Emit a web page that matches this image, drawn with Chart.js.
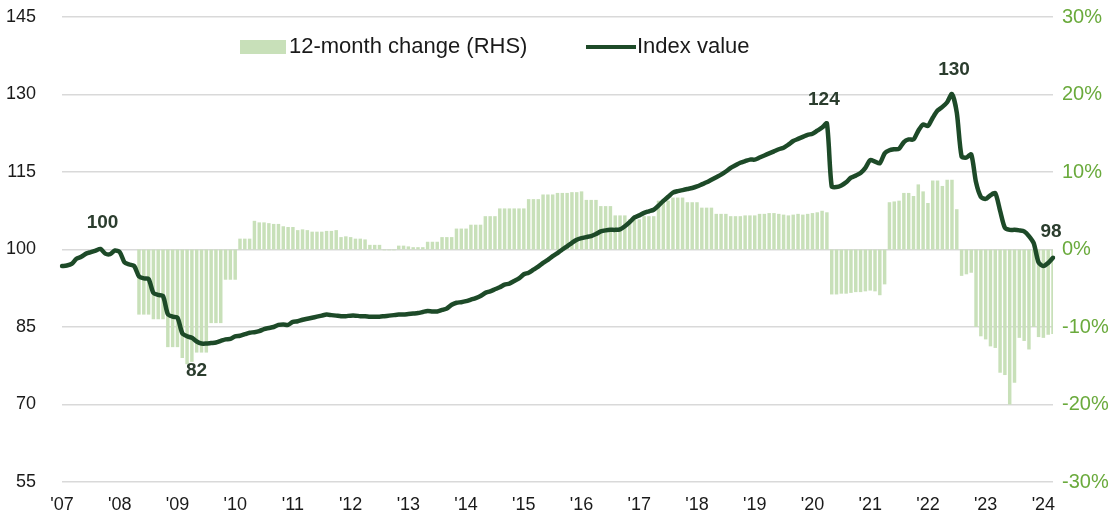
<!DOCTYPE html>
<html>
<head>
<meta charset="utf-8">
<script src="https://cdn.jsdelivr.net/npm/chart.js@4.4.1/dist/chart.umd.min.js"></script>
<style>
  html, body { margin: 0; padding: 0; background: #fff; }
  #wrap { width: 1119px; height: 517px; }
</style>
</head>
<body>
<div id="wrap"><canvas id="indexChart" width="1119" height="517"></canvas></div>
<script>
// Monthly data, Jan 2007 -> Mar 2024
const startYear = 2007;
const monthCount = 207;

// Index value (LHS)
const indexValue = [
  96.8, 96.9, 97.2, 98.2, 98.6, 99.2, 99.5, 99.8, 100.1, 99.2, 99.1, 99.8,   // 2007
  99.5, 97.5, 97.1, 96.8, 94.8, 94.4, 94.3, 91.6, 91.2, 91.0, 87.5, 87.0,    // 2008
  86.8, 83.8, 83.2, 82.9, 82.2, 81.8, 81.8, 81.9, 82.0, 82.3, 82.6, 82.7,    // 2009
  83.2, 83.3, 83.6, 83.9, 84.0, 84.2, 84.6, 84.8, 85.0, 85.4, 85.5, 85.4,    // 2010
  86.0, 86.1, 86.4, 86.6, 86.8, 87.0, 87.2, 87.4, 87.3, 87.2, 87.1, 87.1,    // 2011
  87.2, 87.2, 87.1, 87.1, 87.0, 87.0, 87.0, 87.1, 87.2, 87.3, 87.4, 87.4,    // 2012
  87.5, 87.6, 87.7, 87.9, 88.1, 88.0, 88.0, 88.3, 88.6, 89.3, 89.7, 89.8,    // 2013
  90.0, 90.3, 90.6, 91.0, 91.6, 91.9, 92.3, 92.7, 93.2, 93.4, 93.9, 94.4,    // 2014
  95.2, 95.5, 96.1, 96.7, 97.4, 98.0, 98.7, 99.3, 100.0, 100.6, 101.3, 101.9, // 2015
  102.2, 102.4, 102.6, 103.0, 103.5, 103.7, 103.8, 103.8, 103.9, 104.5, 105.3, 106.2, // 2016
  106.6, 107.1, 107.4, 107.7, 108.5, 109.4, 110.2, 111.0, 111.3, 111.5, 111.7, 111.9, // 2017
  112.2, 112.6, 113.0, 113.5, 114.0, 114.5, 115.1, 115.8, 116.3, 116.8, 117.1, 117.4, // 2018
  117.4, 117.8, 118.2, 118.6, 119.0, 119.4, 119.7, 120.3, 121.0, 121.4, 121.8, 122.2, // 2019
  122.4, 123.0, 123.6, 124.4, 112.2, 112.1, 112.4, 113.0, 113.9, 114.3, 114.8, 115.8, // 2020
  117.3, 117.0, 116.7, 118.6, 119.2, 119.4, 119.5, 120.8, 121.3, 121.3, 123.0, 124.2, // 2021
  123.9, 125.5, 126.9, 127.6, 128.5, 130.1, 126.5, 118.0, 117.8, 118.4, 113.0, 110.2, // 2022
  109.8, 110.5, 110.9, 107.5, 104.2, 103.8, 103.8, 103.7, 103.5, 102.6, 101.2, 97.5,  // 2023
  96.8, 97.4, 98.4                                                                     // 2024
];

// 12-month change in % (RHS)
const change12m = [
  null, null, null, null, null, null, null, null, null, null, null, null,    // 2007
  null, null, null, null, -8.4, -8.4, -8.4, -9.0, -9.0, -9.0, -12.6, -12.6,  // 2008
  -12.6, -14.0, -14.8, -14.5, -13.3, -13.3, -13.3, -9.5, -9.5, -9.5, -3.9, -3.9, // 2009
  -3.9, 1.4, 1.4, 1.4, 3.7, 3.5, 3.5, 3.4, 3.3, 3.3, 3.0, 2.9,               // 2010
  2.9, 2.5, 2.6, 2.5, 2.3, 2.3, 2.3, 2.4, 2.4, 2.5, 1.6, 1.7,                // 2011
  1.6, 1.4, 1.4, 1.3, 0.6, 0.6, 0.6, -0.1, -0.1, -0.1, 0.5, 0.5,             // 2012
  0.4, 0.3, 0.3, 0.3, 1.0, 1.0, 1.0, 1.6, 1.6, 1.6, 2.7, 2.7,                // 2013
  2.7, 3.2, 3.2, 3.2, 4.3, 4.3, 4.3, 5.3, 5.3, 5.3, 5.3, 5.3,                // 2014
  5.3, 6.5, 6.5, 6.5, 7.1, 7.1, 7.1, 7.3, 7.3, 7.3, 7.4, 7.4,                // 2015
  7.5, 6.4, 6.4, 6.4, 5.6, 5.6, 5.6, 4.4, 4.4, 4.4, 3.9, 3.9,                // 2016
  3.9, 4.3, 4.3, 4.3, 6.3, 6.3, 6.3, 6.7, 6.7, 6.7, 6.1, 6.1,                // 2017
  6.1, 5.4, 5.4, 5.4, 4.6, 4.6, 4.6, 4.3, 4.3, 4.3, 4.4, 4.4,                // 2018
  4.4, 4.6, 4.6, 4.7, 4.7, 4.6, 4.5, 4.4, 4.5, 4.6, 4.5, 4.6,                // 2019
  4.7, 4.8, 5.0, 4.8, -5.8, -5.8, -5.7, -5.7, -5.6, -5.5, -5.5, -5.4,        // 2020
  -5.3, -5.4, -5.9, -4.5, 6.1, 6.2, 6.3, 7.3, 7.3, 6.9, 8.4, 7.5,            // 2021
  6.0, 8.9, 8.9, 8.2, 9.0, 9.0, 5.2, -3.4, -3.2, -3.0, -10.0, -11.2,         // 2022
  -11.6, -12.5, -12.7, -15.9, -16.2, -20.0, -17.2, -11.4, -11.8, -12.9, -10.0, -11.3, // 2023
  -11.4, -11.0, -10.9                                                        // 2024
];

// Axis ticks
const leftTicks = [55, 70, 85, 100, 115, 130, 145];
const rightTicks = [-30, -20, -10, 0, 10, 20, 30];

// Annotated points on the index line
const callouts = [
  { index: 8,   text: '100', dx: 2,  dy: -26 },
  { index: 29,  text: '82',  dx: -5, dy: 27 },
  { index: 159, text: '124', dx: -3, dy: -24 },
  { index: 185, text: '130', dx: 2,  dy: -24 },
  { index: 206, text: '98',  dx: -2, dy: -26 }
];

// Libellés mensuels
const labels = [];
for (let i = 0; i < monthCount; i++) {
  const y = startYear + Math.floor(i / 12);
  const m = (i % 12) + 1;
  labels.push(y + '-' + String(m).padStart(2, '0'));
}

const FONT = "'Liberation Sans', Arial, sans-serif";
const BAR_COLOR = '#c8e0b9';
const LINE_COLOR = '#1d4a28';

// Pas de marge automatique pour les étiquettes des axes verticaux
const noVertPadding = s => { s.paddingTop = 0; s.paddingBottom = 0; };

// Légende et étiquettes dessinées à la main
const overlayPlugin = {
  id: 'overlay',
  afterDatasetsDraw(chart) {
    const ctx = chart.ctx;
    const meta = chart.getDatasetMeta(1);
    ctx.save();
    ctx.font = 'bold 19px ' + FONT;
    ctx.fillStyle = '#2b3d2e';
    ctx.textAlign = 'center';
    ctx.textBaseline = 'middle';
    callouts.forEach(c => {
      const pt = meta.data[c.index];
      if (!pt) return;
      ctx.fillText(c.text, pt.x + c.dx, pt.y + c.dy);
    });

    // Légende
    const ly = 47;
    ctx.fillStyle = BAR_COLOR;
    ctx.fillRect(240, ly - 7, 46, 14);
    ctx.font = '22px ' + FONT;
    ctx.fillStyle = '#1a1a1a';
    ctx.textAlign = 'left';
    ctx.fillText(chart.data.datasets[0].label, 289, ly);
    ctx.strokeStyle = LINE_COLOR;
    ctx.lineWidth = 4;
    ctx.beginPath();
    ctx.moveTo(586, ly);
    ctx.lineTo(636, ly);
    ctx.stroke();
    ctx.fillText(chart.data.datasets[1].label, 637, ly);
    ctx.restore();
  }
};

const ctx = document.getElementById('indexChart').getContext('2d');
new Chart(ctx, {
  data: {
    labels: labels,
    datasets: [
      {
        type: 'bar',
        label: '12-month change (RHS)',
        data: change12m,
        yAxisID: 'yRight',
        backgroundColor: BAR_COLOR,
        borderWidth: 0,
        barPercentage: 0.72,
        categoryPercentage: 1.0,
        order: 2
      },
      {
        type: 'line',
        label: 'Index value',
        data: indexValue,
        yAxisID: 'yLeft',
        borderColor: LINE_COLOR,
        borderWidth: 4.5,
        pointRadius: 0,
        tension: 0.25,
        borderJoinStyle: 'round',
        borderCapStyle: 'round',
        order: 1
      }
    ]
  },
  options: {
    responsive: false,
    animation: false,
    layout: { padding: { top: 17, left: 0, right: 0, bottom: 0 } },
    plugins: {
      legend: { display: false },
      tooltip: { enabled: false }
    },
    scales: {
      x: {
        type: 'category',
        offset: false,
        grid: { display: false, drawTicks: false },
        border: { display: false },
        afterFit: s => { s.height = 35; },
        ticks: {
          autoSkip: false,
          maxRotation: 0,
          padding: 12,
          color: '#1a1a1a',
          font: { family: FONT, size: 18 },
          callback: function (val, i) {
            const lab = labels[i];
            if (!lab.endsWith('-01')) return null;
            return "'" + lab.slice(2, 4);
          }
        }
      },
      yLeft: {
        position: 'left',
        min: 55,
        max: 145,
        afterFit: s => { s.width = 62; noVertPadding(s); },
        afterBuildTicks: s => { s.ticks = leftTicks.map(v => ({ value: v })); },
        grid: { color: '#d9d9d9', lineWidth: 1.5, drawTicks: false },
        border: { display: false },
        ticks: {
          padding: 26,
          color: '#1a1a1a',
          font: { family: FONT, size: 18 }
        }
      },
      yRight: {
        position: 'right',
        min: -30,
        max: 30,
        afterFit: s => { s.width = 66; noVertPadding(s); },
        afterBuildTicks: s => { s.ticks = rightTicks.map(v => ({ value: v })); },
        grid: { display: false, drawTicks: false },
        border: { display: false },
        ticks: {
          padding: 9,
          color: '#6aaa3c',
          font: { family: FONT, size: 20 },
          callback: v => v + '%'
        }
      }
    }
  },
  plugins: [overlayPlugin]
});
</script>
</body>
</html>
